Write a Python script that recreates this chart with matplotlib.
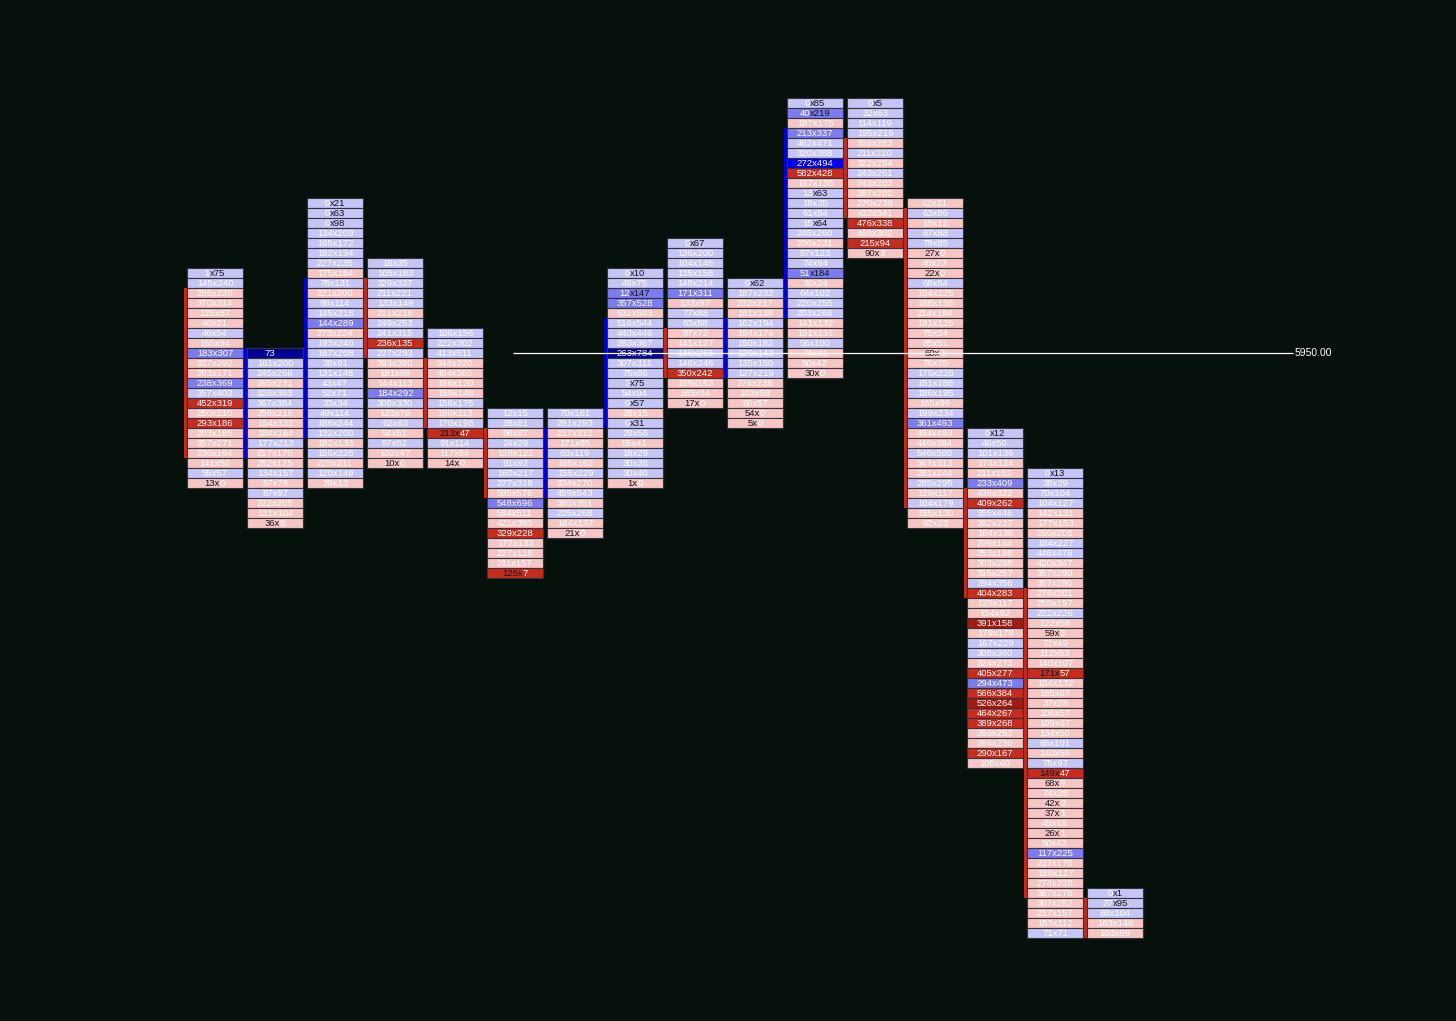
import matplotlib
matplotlib.use("Agg")
import matplotlib.pyplot as plt
from matplotlib.patches import Rectangle

tops = [5952.0, 5950.0, 5953.75, 5952.25, 5950.5, 5948.5, 5948.5, 5952.0,
        5952.75, 5951.75, 5956.25, 5956.25, 5953.75, 5948.0, 5947.0, 5936.5]

labels = [
 "1x75 145x240 295x220 370x314 125x87 46x21 46x54 165x94 183x307 337x292 203x171 238x369 357x403 452x319 250x210 293x186 203x169 357x271 236x164 141x50 55x57 13x0".split(),
 "73x5 161x200 245x266 265x231 326x363 367x384 259x216 154x132 184x164 177x213 217x179 252x125 134x157 87x76 87x97 222x205 121x104 36x8".split(),
 "0x21 0x63 0x98 134x209 165x172 182x194 227x235 175x164 78x131 221x200 98x114 145x218 144x289 273x224 193x240 167x208 38x91 131x148 43x47 52x71 33x34 49x114 186x244 132x200 182x133 156x228 225x211 120x149 29x13".split(),
 "18x35 105x183 329x337 211x221 133x149 221x216 249x253 241x315 236x135 227x293 393x390 191x98 144x113 184x292 308x330 123x76 62x63 54x51 57x82 102x47 10x0".split(),
 "106x156 222x302 413x511 344x320 464x365 156x120 159x148 156x175 180x113 170x198 213x47 91x114 117x64 14x0".split(),
 "12x15 28x81 96x87 24x29 128x122 91x92 160x217 277x319 585x576 548x696 584x511 421x383 329x228 172x133 227x128 211x157 125x7".split(),
 "70x161 291x293 217x212 171x85 63x119 165x162 155x229 334x270 459x543 365x351 225x268 164x137 21x0".split(),
 "0x10 49x75 12x147 357x528 632x583 516x544 440x446 263x367 263x784 307x311 75x86 2x75 54x94 0x57 28x15 0x31 29x56 55x41 18x29 30x38 30x40 1x0".split(),
 "0x67 136x200 104x146 135x156 148x214 171x311 133x97 77x88 63x88 87x72 141x127 146x266 146x246 350x242 169x163 165x94 17x0".split(),
 "0x62 187x232 232x217 161x138 162x194 194x174 150x182 129x142 135x150 127x219 274x238 103x59 66x57 54x0 5x0".split(),
 "0x85 40x219 187x175 213x337 462x471 320x388 272x494 582x428 157x138 13x63 18x35 61x84 15x64 245x260 236x231 87x123 74x94 51x184 36x24 64x102 220x255 203x266 141x132 151x131 56x100 74x41 50x42 30x0".split(),
 "0x5 32x63 114x119 195x219 338x283 211x220 322x254 243x261 243x203 267x202 270x239 432x341 476x338 460x302 215x94 90x3".split(),
 "42x31 63x86 15x12 67x88 79x85 27x0 40x27 22x0 68x84 154x125 168x136 214x194 191x125 75x34 85x51 60x1 76x75 176x228 151x188 186x195 165x96 199x234 361x493 494x493 446x384 546x580 347x313 281x244 285x295 129x117 104x179 155x130 62x23".split(),
 "0x12 46x50 101x136 174x124 211x162 233x409 435x322 409x262 355x446 262x227 164x138 209x164 253x198 303x288 315x257 294x356 404x283 125x117 154x92 391x158 179x178 167x229 308x360 324x273 405x277 294x473 566x384 526x264 464x267 389x268 263x253 264x230 290x167 108x40".split(),
 "0x13 38x39 70x104 104x127 142x131 177x153 260x208 184x227 446x476 420x347 357x290 357x280 276x201 255x197 222x226 122x58 59x3 71x49 112x53 140x107 171x57 154x132 165x87 37x28 106x57 109x67 134x50 65x101 140x56 75x97 149x47 68x9 74x28 42x2 37x1 45x18 26x1 50x43 117x225 237x176 189x127 274x228 367x278 307x252 217x157 153x112 71x71".split(),
 "0x1 27x95 68x104 163x146 103x99".split(),
]

# b light blue, B mid blue, U pure blue, N navy, r light red, R red, D dark red
kinds = [
 "bbrrrrbrBrrBbRrRrrrrbr",
 "Nbbrbbrrrbrrbrbrrr",
 "bbbbbbbrbrbbBrbbbbbbbbbbrbrbr",
 "bbbbbrbbRbrrrBbrbrbrr",
 "bbbrrrrbrbRbrr",
 "bbrbrbbbrBrrRrrrR",
 "bbrrbrbrbrbrr",
 "bbBBrbbbNbbbbbrbbrbbbr",
 "bbbbbBrbbrrbbRrrr",
 "bbrrbrbbbbrrrrr",
 "bBrBbbURrbbbbbrbbBrbbbrrbrrr",
 "bbbbrbrbrrrrRrRr",
 "rbrbbrrrbrrrrrrrrbbbrbBrrbrrbrbrr",
 "bbbrrBrRbrrrrrrbRrrDrbbrRBRDRRrrRr",
 "bbbbrrrbbrrrrrbrrrrrRrrrrrrbrbRrrrrrrrBrrrrrrrb",
 "bbbrr",
]

# value-area side bars: column, top price, bottom price (row centres), colour kind
bar_cols = [0, 1, 2, 3, 4, 5, 6, 7, 8, 9, 10, 11, 12, 13, 14, 15]
bar_tops = [5951.5, 5950.0, 5951.75, 5951.75, 5949.75, 5948.0, 5948.0, 5950.75,
            5950.5, 5950.75, 5955.5, 5955.25, 5953.5, 5946.5, 5944.0, 5936.25]
bar_bottoms = [5947.5, 5947.5, 5948.0, 5950.0, 5948.25, 5946.5, 5946.5, 5948.25,
               5949.5, 5949.5, 5951.0, 5953.5, 5946.25, 5944.0, 5936.5, 5935.5]
bar_kinds = "rUUrrrUUrUUrrrrr"

last_price = 5950.0
last_price_label = "5950.00"
line_start = 4.967
line_end = 17.967

BG = "#07110c"
FILL = {"b": "#c6c6f6", "B": "#7c7cf0", "U": "#0000f0", "N": "#000092",
        "r": "#f5c6c4", "R": "#c62c1e", "D": "#a01c12"}
WHITE = "#ffffff"
DARK = "#12121e"
FS = 6.8
TICK = 0.25


def width(s):
    return sum(0.5 if ch == "x" else 0.556 for ch in s) * FS


fig = plt.figure(figsize=(14.56, 10.21), dpi=100, facecolor=BG)
ax = fig.add_axes([0, 0, 1, 1], facecolor=BG)
ax.set_xlim(-215 / 60, (1456 - 215) / 60)
ax.set_ylim(5950 - (1021 - 353) * TICK / 10, 5950 + 353 * TICK / 10)
ax.axis("off")
fam = ["Liberation Sans", "DejaVu Sans"]

for c, top in enumerate(tops):
    for r, (lab, k) in enumerate(zip(labels[c], kinds[c])):
        price = top - r * TICK
        ax.add_patch(Rectangle((c - 0.467, price - TICK / 2), 0.933, TICK,
                               facecolor=FILL[k], edgecolor="#34323c", linewidth=0.8, zorder=2))
        bid, ask = lab.split("x")
        b, a = int(bid), int(ask)
        hi, lo = max(a, b), min(a, b)
        strong = hi >= 3 * lo
        if k == "N" and lab == "73x5":
            parts = [(bid, WHITE), ("x", FILL["N"]), (ask, FILL["N"])]
        elif not strong:
            parts = [(lab, WHITE)]
        elif a >= b:
            parts = [(bid, WHITE), ("x" + ask, DARK)]
        else:
            parts = [(bid + "x", DARK), (ask, WHITE)]
        total = sum(width(p[0]) for p in parts)
        off = -total / 2
        for s, col in parts:
            ax.annotate(s, (c, price), xytext=(off, -0.2), textcoords="offset points",
                        ha="left", va="center", fontsize=FS, family=fam, color=col, zorder=3)
            off += width(s)

for c, t, bt, k in zip(bar_cols, bar_tops, bar_bottoms, bar_kinds):
    col = {"r": "#c02c1c", "U": "#0000d0"}[k]
    ax.add_patch(Rectangle((c - 0.525, bt - TICK / 2), 0.05, t - bt + TICK,
                           facecolor=col, edgecolor="none", zorder=1.5))

ax.plot([line_start, line_end], [last_price, last_price], color="white", lw=0.9, zorder=4, solid_capstyle="butt")
ax.annotate(last_price_label, (line_end, last_price), xytext=(1, 0), textcoords="offset points",
            ha="left", va="center", color="white", fontsize=7.5, family=fam, zorder=4)

fig.savefig("out.png", dpi=100, facecolor=BG)
